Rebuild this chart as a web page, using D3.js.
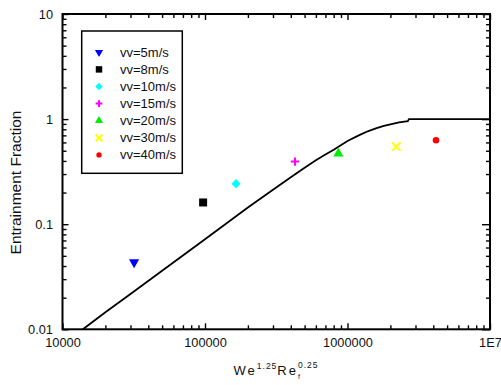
<!DOCTYPE html>
<html>
<head>
<meta charset="utf-8">
<script src="https://cdn.jsdelivr.net/npm/d3@7"></script>
<style>
  html, body { margin: 0; padding: 0; background: #fff; }
  svg { display: block; font-family: "Liberation Sans", Arial, sans-serif; }
</style>
</head>
<body>
<svg id="chart" width="501" height="385"></svg>
<script>
// measured points, one per velocity
const seriesNames = ['vv=5m/s', 'vv=8m/s', 'vv=10m/s', 'vv=15m/s', 'vv=20m/s', 'vv=30m/s', 'vv=40m/s'];
const seriesX = [31800, 97000, 165000, 428000, 863000, 2200000, 4180000];
const seriesY = [0.0434, 0.161, 0.243, 0.394, 0.47, 0.546, 0.628];

// correlation curve
const curveX = [13900, 20000, 30000, 50000, 100000, 200000, 300000, 400000, 500000, 600000, 700000, 800000,
  1000000, 1200000, 1400000, 1600000, 1800000, 2000000, 2300000, 2650000, 2700000, 10000000];
const curveY = [0.01, 0.0145, 0.0217, 0.036, 0.072, 0.144, 0.213, 0.28, 0.345, 0.405, 0.46, 0.51,
  0.62, 0.70, 0.77, 0.82, 0.86, 0.89, 0.93, 0.955, 1.0, 1.0];

// axes
const xTicks = [1e4, 1e5, 1e6, 1e7];
const xTickLabels = ['10000', '100000', '1000000', '1E7'];
const yTicks = [0.01, 0.1, 1, 10];
const yTickLabels = ['0.01', '0.1', '1', '10'];

// marker styles
const markerColors = ['#0000ff', '#000000', '#00ffff', '#ff00ff', '#00ee00', '#ffff00', '#ff0000'];

const plus = {
  draw(ctx, size) {
    const r = Math.sqrt(size) / 2;
    ctx.moveTo(-r, 0); ctx.lineTo(r, 0);
    ctx.moveTo(0, -r); ctx.lineTo(0, r);
  }
};
const cross = {
  draw(ctx, size) {
    const r = Math.sqrt(size) / 2;
    ctx.moveTo(-r, -r); ctx.lineTo(r, r);
    ctx.moveTo(-r, r); ctx.lineTo(r, -r);
  }
};
const markers = [
  { type: d3.symbolTriangle, size: 45, rotate: 180, stroke: false },
  { type: d3.symbolSquare, size: 64, rotate: 0, stroke: false },
  { type: d3.symbolSquare, size: 42, rotate: 45, stroke: false },
  { type: plus, size: 70, rotate: 0, stroke: true },
  { type: d3.symbolTriangle, size: 45, rotate: 0, stroke: false },
  { type: cross, size: 70, rotate: 0, stroke: true },
  { type: d3.symbolCircle, size: 34, rotate: 0, stroke: false }
];

const svg = d3.select('#chart');
const margin = { top: 14, right: 11, bottom: 55.7, left: 62.5 };
const width = +svg.attr('width') - margin.left - margin.right;
const height = +svg.attr('height') - margin.top - margin.bottom;

const g = svg.append('g').attr('transform', `translate(${margin.left},${margin.top})`);

const x = d3.scaleLog().domain([1e4, 1e7]).range([0, width]);
const y = d3.scaleLog().domain([0.01, 10]).range([height, 0]);

const xMinor = x.ticks().filter(d => !xTicks.includes(d));
const yMinor = y.ticks().filter(d => !yTicks.includes(d));

function styleAxis(sel) {
  sel.select('.domain').remove();
  sel.selectAll('line').attr('stroke', '#000').attr('stroke-width', 1.4);
  sel.selectAll('text').attr('font-size', 12.8).attr('fill', '#111');
}

// bottom
g.append('g').attr('transform', `translate(0,${height})`)
  .call(d3.axisBottom(x).tickValues(xTicks).tickSize(-6).tickSizeOuter(0).tickPadding(9)
    .tickFormat((d, i) => xTickLabels[i]))
  .call(styleAxis);
g.append('g').attr('transform', `translate(0,${height})`)
  .call(d3.axisBottom(x).tickValues(xMinor).tickSize(-4).tickSizeOuter(0).tickFormat(''))
  .call(styleAxis);
// top
g.append('g')
  .call(d3.axisTop(x).tickValues(xTicks).tickSize(-6).tickSizeOuter(0).tickFormat(''))
  .call(styleAxis);
g.append('g')
  .call(d3.axisTop(x).tickValues(xMinor).tickSize(-4).tickSizeOuter(0).tickFormat(''))
  .call(styleAxis);
// left
g.append('g')
  .call(d3.axisLeft(y).tickValues(yTicks).tickSize(-6).tickSizeOuter(0).tickPadding(9.5)
    .tickFormat((d, i) => yTickLabels[i]))
  .call(styleAxis);
g.append('g')
  .call(d3.axisLeft(y).tickValues(yMinor).tickSize(-4).tickSizeOuter(0).tickFormat(''))
  .call(styleAxis);
// right
g.append('g').attr('transform', `translate(${width},0)`)
  .call(d3.axisRight(y).tickValues(yTicks).tickSize(-8).tickSizeOuter(0).tickFormat(''))
  .call(styleAxis);
g.append('g').attr('transform', `translate(${width},0)`)
  .call(d3.axisRight(y).tickValues(yMinor).tickSize(-4).tickSizeOuter(0).tickFormat(''))
  .call(styleAxis);

// frame
g.append('rect')
  .attr('width', width).attr('height', height)
  .attr('fill', 'none').attr('stroke', '#000').attr('stroke-width', 2);

svg.append('clipPath').attr('id', 'clip')
  .append('rect').attr('width', width).attr('height', height);

// curve
const curve = curveX.map((d, i) => ({ x: d, y: curveY[i] }));
g.append('path')
  .datum(curve)
  .attr('clip-path', 'url(#clip)')
  .attr('fill', 'none')
  .attr('stroke', '#000')
  .attr('stroke-width', 1.8)
  .attr('d', d3.line().x(d => x(d.x)).y(d => y(d.y)));

function drawMarker(sel, i, scale) {
  const m = markers[i];
  const p = sel.append('path')
    .attr('d', d3.symbol().type(m.type).size(m.size * scale)())
    .attr('transform', (sel.attr('data-t') || '') + `rotate(${m.rotate})`);
  if (m.stroke) {
    p.attr('fill', 'none').attr('stroke', markerColors[i]).attr('stroke-width', 2);
  } else {
    p.attr('fill', markerColors[i]);
  }
}

// data points
seriesX.forEach((d, i) => {
  const pt = g.append('g').attr('transform', `translate(${x(d)},${y(seriesY[i])})`);
  drawMarker(pt, i, 1);
});

// legend
const legend = svg.append('g');
legend.append('rect')
  .attr('x', 81.7).attr('y', 31).attr('width', 100.6).attr('height', 142.3)
  .attr('fill', '#fff').attr('stroke', '#000').attr('stroke-width', 1.5);
seriesNames.forEach((name, i) => {
  const row = legend.append('g').attr('transform', `translate(99,${52.3 + i * 17.1})`);
  drawMarker(row, i, 0.65);
  row.append('text')
    .attr('x', 21).attr('y', 0)
    .attr('dy', '0.35em')
    .attr('font-size', 13)
    .attr('fill', '#111')
    .text(name);
});

// axis titles
const xt = svg.append('text')
  .attr('x', 276).attr('y', 375)
  .attr('text-anchor', 'middle')
  .attr('font-size', 13)
  .attr('letter-spacing', 2)
  .attr('fill', '#111');
xt.append('tspan').text('We');
xt.append('tspan').attr('dy', -6).attr('font-size', 8.5).attr('letter-spacing', 1).text('1.25');
xt.append('tspan').attr('dy', 6).text('Re');
xt.append('tspan').attr('dy', 4).attr('font-size', 7).text('f');
xt.append('tspan').attr('dx', -4).attr('dy', -11).attr('font-size', 8.5).attr('letter-spacing', 1).text('0.25');

svg.append('text')
  .attr('transform', 'translate(20.5,182.5) rotate(-90)')
  .attr('text-anchor', 'middle')
  .attr('font-size', 15.5)
  .attr('fill', '#111')
  .text('Entrainment Fraction');
</script>
</body>
</html>
